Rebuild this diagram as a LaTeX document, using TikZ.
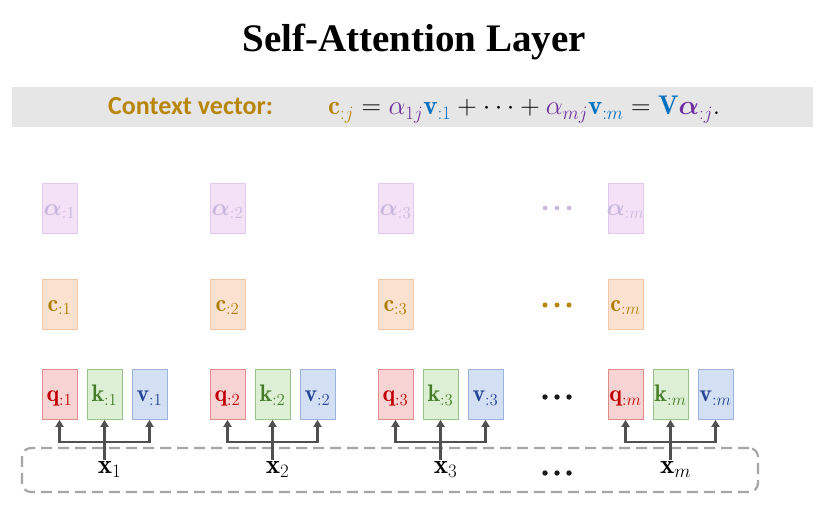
\RequirePackage{fix-cm}
\documentclass[tikz,border=0pt]{standalone}
\usepackage{amsmath,bm}
\usepackage{fontspec}
\newfontfamily\titlefont{Liberation Serif}
\newfontfamily\cvfont{Carlito}
\usetikzlibrary{arrows.meta}
\definecolor{gold}{RGB}{184,134,11}
\definecolor{fpurple}{RGB}{112,48,160}
\definecolor{fblue}{RGB}{0,112,192}
\definecolor{bandgray}{RGB}{231,230,230}
\definecolor{afill}{RGB}{244,225,247}
\definecolor{adraw}{RGB}{226,201,238}
\definecolor{atxt}{RGB}{200,184,222}
\definecolor{cfill}{RGB}{251,226,208}
\definecolor{cdraw}{RGB}{242,199,165}
\definecolor{ctxt}{RGB}{176,126,0}
\definecolor{qfill}{RGB}{248,211,211}
\definecolor{qdraw}{RGB}{224,138,138}
\definecolor{qtxt}{RGB}{192,0,0}
\definecolor{kfill}{RGB}{221,240,213}
\definecolor{kdraw}{RGB}{150,196,138}
\definecolor{ktxt}{RGB}{70,125,40}
\definecolor{vfill}{RGB}{211,223,242}
\definecolor{vdraw}{RGB}{157,179,216}
\definecolor{vtxt}{RGB}{40,70,150}
\definecolor{arrgray}{RGB}{80,80,80}
\definecolor{dashgray}{RGB}{166,166,166}
\newcommand{\blbl}[1]{\makebox[0pt]{\smash{\raisebox{-7pt}{$#1$}}}}
\begin{document}
\begin{tikzpicture}[x=1pt,y=-1pt,
  vbox/.style={draw, line width=0.8pt, minimum width=35pt, minimum height=50pt, inner sep=0pt,
    font=\fontsize{24}{24}\selectfont},
  abox/.style={vbox, fill=afill, draw=adraw, text=atxt},
  cbox/.style={vbox, fill=cfill, draw=cdraw, text=ctxt},
  qbox/.style={vbox, fill=qfill, draw=qdraw, text=qtxt},
  kbox/.style={vbox, fill=kfill, draw=kdraw, text=ktxt},
  wbox/.style={vbox, fill=vfill, draw=vdraw, text=vtxt},
  xlbl/.style={inner sep=1pt, font=\fontsize{27}{27}\selectfont},
  arr/.style={draw=arrgray, line width=2.4pt, -{Triangle[width=8pt,length=7pt]}}
]
\useasboundingbox (0,0) rectangle (826,505);
\fill[white] (0,0) rectangle (826,505);
% title
\node[anchor=base, font=\titlefont\bfseries\fontsize{39}{39}\selectfont] (title) at (414,52) {Self-Attention Layer};
% band
\node[fill=bandgray, minimum width=801pt, minimum height=40pt, inner sep=0pt] (band) at (412.5,107) {};
\node[anchor=base west, inner sep=0pt, text=gold, font=\cvfont\bfseries\fontsize{26}{26}\selectfont] (cv) at (108,115) {Context vector:};
\node[anchor=base west, font=\fontsize{27}{27}\selectfont, inner sep=0pt] (formula) at (328,115)
 {$\color{gold}\mathbf{c}_{:j}\color{black} = \color{fpurple}\alpha_{1j}\color{fblue}\mathbf{v}_{:1}\color{black} + \cdots + \color{fpurple}\alpha_{mj}\color{fblue}\mathbf{v}_{:m}\color{black} = \color{fblue}\mathbf{V}\color{fpurple}\bm{\alpha}_{:j}\color{black}.$};
% input rect
\node[draw=dashgray, line width=2.2pt, dash pattern=on 11pt off 6pt, rounded corners=9pt,
  minimum width=736pt, minimum height=44pt, inner sep=0pt] (inp) at (390,470) {};
% columns
\foreach \i/\cx/\s in {1/59.5/1, 2/227.5/2, 3/395.5/3, m/625.5/m}{
  \node[abox] (a\i) at (\cx,208) {\blbl{\bm{\alpha}_{:\s}}};
  \node[cbox] (c\i) at (\cx,304) {\blbl{\mathbf{c}_{:\s}}};
  \node[qbox] (q\i) at (\cx,394.5) {\blbl{\mathbf{q}_{:\s}}};
  \node[kbox] (k\i) at (\cx+45,394.5) {\blbl{\mathbf{k}_{:\s}}};
  \node[wbox] (v\i) at (\cx+90,394.5) {\blbl{\mathbf{v}_{:\s}}};
  \node[xlbl, anchor=north] (x\i) at (\cx+50,460) {$\mathbf{x}_{\s}$};
  \coordinate (j\i) at (\cx+45,442);
  \draw[arr] (x\i.north -| k\i.south) -- (k\i.south);
  \draw[arr] (j\i) -| (q\i.south);
  \draw[arr] (j\i) -| (v\i.south);
}
% dots
\foreach \dx in {545,557,569}{
  \fill[atxt] (\dx,208) circle (2.3);
  \fill[gold] (\dx,305) circle (2.5);
  \fill[black!90] (\dx,397) circle (2.7);
  \fill[black!90] (\dx,473) circle (2.7);
}
\end{tikzpicture}
\end{document}
